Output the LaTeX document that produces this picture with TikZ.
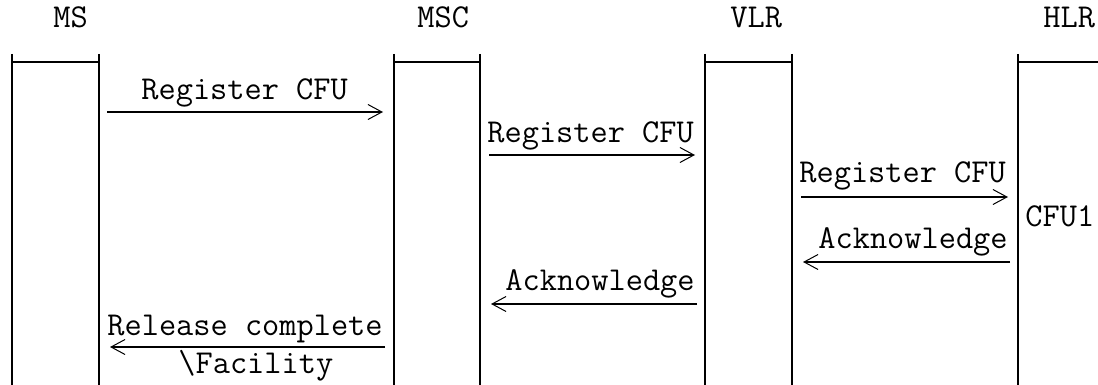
\documentclass[tikz,border=0pt]{standalone}
\usepackage{fontspec}
\usepackage{tikz}
\usetikzlibrary{arrows.meta}
\tikzset{
  life/.style={draw=black, line width=1.4pt},
  capline/.style={draw=black, line width=0.6pt},
  msg/.style={draw=black, line width=0.9pt, -{Straight Barb[length=7pt,width=7.5pt,line width=0.5pt].}},
  lbl/.style={font=\ttfamily\fontsize{16.7}{19}\selectfont, inner sep=0pt, anchor=base west}
}
\begin{document}
\begin{tikzpicture}[x=0.5pt,y=-0.5pt]
  \useasboundingbox (0,0) rectangle (1098,385);

  % lifelines
  \foreach \name/\xa/\xb in {ms/12/99, msc/394/480, vlr/705/792, hlr/1018/1112} {
    \coordinate (\name-tl) at (\xa,54);
    \coordinate (\name-tr) at (\xb,54);
    \coordinate (\name-bl) at (\xa,390);
    \coordinate (\name-br) at (\xb,390);
    \coordinate (\name-cl) at (\xa,62);
    \coordinate (\name-cr) at (\xb,62);
    \draw[life] (\name-tl) -- (\name-bl);
    \draw[life] (\name-tr) -- (\name-br);
    \draw[capline] (\name-cl) -- (\name-cr);
  }

  \node[lbl] (ms)  at (53,28)   {MS};
  \node[lbl] (msc) at (417,28)  {MSC};
  \node[lbl] (vlr) at (730,28)  {VLR};
  \node[lbl] (hlr) at (1043,28) {HLR};
  \node[lbl] (cfu) at (1025,227) {CFU1};

  % messages
  \coordinate (m1a) at (107,112);  \coordinate (m1b) at (383,112);
  \coordinate (m2a) at (489,155);  \coordinate (m2b) at (695,155);
  \coordinate (m3a) at (801,197);  \coordinate (m3b) at (1008,197);
  \coordinate (m4a) at (1010,262); \coordinate (m4b) at (803,262);
  \coordinate (m5a) at (697,304);  \coordinate (m5b) at (491,304);
  \coordinate (m6a) at (385,347);  \coordinate (m6b) at (110,347);

  \draw[msg] (m1a) -- (m1b);
  \draw[msg] (m2a) -- (m2b);
  \draw[msg] (m3a) -- (m3b);
  \draw[msg] (m4a) -- (m4b);
  \draw[msg] (m5a) -- (m5b);
  \draw[msg] (m6a) -- (m6b);

  \node[lbl] (reg1) at (141,100) {Register CFU};
  \node[lbl] (reg2) at (487,142) {Register CFU};
  \node[lbl] (reg3) at (799,183) {Register CFU};
  \node[lbl] (ack1) at (818,248) {Acknowledge};
  \node[lbl] (ack2) at (505,290) {Acknowledge};
  \node[lbl] (rel)  at (107,335) {Release complete};
  \node[lbl] (fac)  at (178,373) {\textbackslash Facility};
\end{tikzpicture}
\end{document}
